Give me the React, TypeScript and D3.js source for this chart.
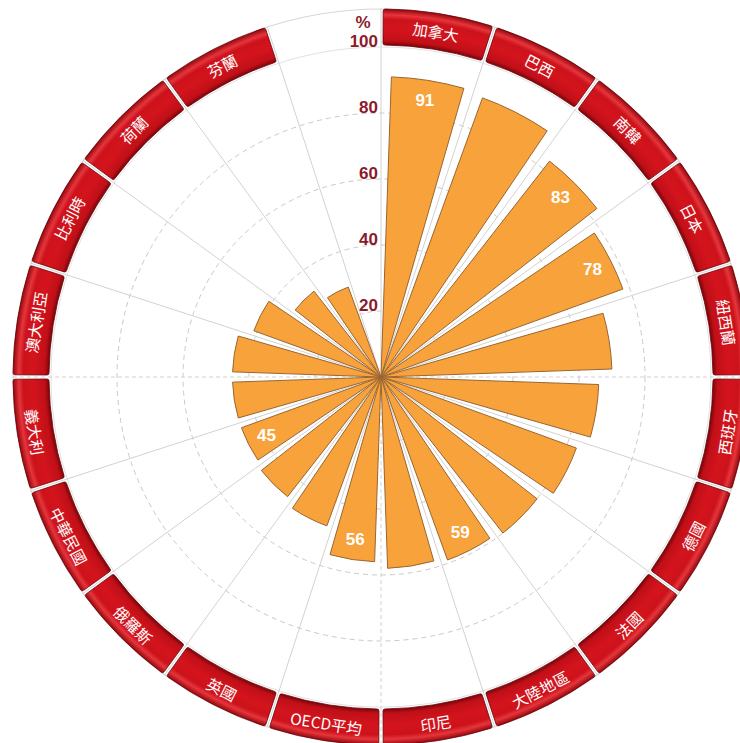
import * as d3 from "d3";

const categories = [
  "加拿大", "巴西", "南韓", "日本", "紐西蘭", "西班牙", "德國", "法國", "大陸地區", "印尼",
  "OECD平均", "英國", "俄羅斯", "中華民國", "義大利", "澳大利亞", "比利時", "荷蘭", "芬蘭",
];
const values = [91, 90, 83, 78, 70, 66, 63, 60, 59, 58, 56, 48, 46, 45, 45, 45, 41, 33, 29];
const labeled = ["加拿大", "南韓", "日本", "大陸地區", "OECD平均", "中華民國"];
const radialTicks = [20, 40, 60, 80, 100];
const GAP = "_gap";

const W = 740;
const H = 743;
const cx = 381;
const cy = 377;
const rMax = 330;
const ringIn = 332;
const ringOut = 368;

export default function App() {
  const x = d3
    .scaleBand<string>()
    .domain([...categories, GAP])
    .range([0, 2 * Math.PI])
    .paddingInner(0.22)
    .paddingOuter(0.11);
  const y = d3.scaleLinear().domain([0, 100]).range([0, rMax]);

  const step = x.step();
  const bw = x.bandwidth();
  const slotStart = (c: string) => (x(c) ?? 0) - (step - bw) / 2;

  const barArc = d3.arc<any>();
  const ringArc = d3.arc<any>().cornerRadius(2);
  const gap = 0.006;

  const pt = (a: number, r: number) => [r * Math.sin(a), -r * Math.cos(a)];

  // slot boundaries for the spokes
  const spokes = d3.range(categories.length + 1).map((i) => i * step);

  return (
    <svg
      width={W}
      height={H}
      style={{ position: "absolute", left: 0, top: 0, background: "#fff" }}
    >
      <defs>
        <radialGradient id="ring" gradientUnits="userSpaceOnUse" cx={0} cy={0} r={ringOut}>
          <stop offset={0.902} stopColor="#7a050a" />
          <stop offset={0.914} stopColor="#c00f18" />
          <stop offset={0.945} stopColor="#d4141d" />
          <stop offset={0.972} stopColor="#cc121b" />
          <stop offset={0.984} stopColor="#e6353c" />
          <stop offset={1} stopColor="#94070d" />
        </radialGradient>
      </defs>
      <g transform={`translate(${cx},${cy})`}>
        {/* grid */}
        <circle r={ringOut} fill="none" stroke="#d6d6d6" strokeWidth={1.2} />
        <circle r={y(100)} fill="none" stroke="#e2e2e2" strokeWidth={1} />
        {radialTicks.slice(0, -1).map((t) => (
          <circle
            key={t}
            r={y(t)}
            fill="none"
            stroke="#c9c9c9"
            strokeWidth={1}
            strokeDasharray="5,4"
          />
        ))}
        {spokes.map((a, i) => {
          const [x2, y2] = pt(a, ringOut);
          return (
            <line
              key={i}
              x1={0}
              y1={0}
              x2={x2}
              y2={y2}
              stroke="#d2d2d2"
              strokeWidth={1}
              strokeDasharray={i === 5 || i === 15 || i === 10 ? "4,3" : undefined}
            />
          );
        })}

        {/* bars */}
        {categories.map((c, i) => (
          <path
            key={c}
            d={
              barArc({
                innerRadius: 0,
                outerRadius: y(values[i]),
                startAngle: x(c),
                endAngle: (x(c) ?? 0) + bw,
              }) ?? ""
            }
            fill="#f8a23b"
            stroke="#9a6530"
            strokeWidth={1}
          />
        ))}

        {/* value labels */}
        {categories.map((c, i) => {
          if (labeled.indexOf(c) < 0) return null;
          const a = (x(c) ?? 0) + bw / 2;
          const [lx, ly] = pt(a, y(values[i]) - 20);
          return (
            <text
              key={c}
              x={lx}
              y={ly}
              textAnchor="middle"
              dominantBaseline="central"
              fill="#fff"
              fontFamily="'Liberation Sans', Arial, sans-serif"
              fontWeight="bold"
              fontSize={17}
            >
              {values[i]}
            </text>
          );
        })}

        {/* outer ring of category tabs */}
        {categories.map((c) => {
          const s = slotStart(c);
          const mid = s + step / 2;
          const deg = (mid * 180) / Math.PI;
          const rot = deg > 90 && deg < 270 ? deg - 180 : deg;
          const [lx, ly] = pt(mid, (ringIn + ringOut) / 2);
          return (
            <g key={c}>
              <path
                d={
                  ringArc({
                    innerRadius: ringIn,
                    outerRadius: ringOut,
                    startAngle: s + gap,
                    endAngle: s + step - gap,
                  }) ?? ""
                }
                fill="url(#ring)"
                stroke="#6a0307"
                strokeWidth={0.8}
              />
              <text
                transform={`translate(${lx},${ly}) rotate(${rot})`}
                textAnchor="middle"
                dominantBaseline="central"
                fill="#fff"
                fontFamily="'Noto Sans CJK TC', 'Noto Sans', sans-serif"
                fontSize={15.5}
              >
                {c}
              </text>
            </g>
          );
        })}

        {/* radial axis labels */}
        {radialTicks.map((t) => (
          <text
            key={t}
            x={-3}
            y={-y(t)}
            textAnchor="end"
            fill="#8c1a2a"
            fontFamily="'Liberation Sans', Arial, sans-serif"
            fontWeight="bold"
            fontSize={17}
          >
            {t}
          </text>
        ))}
        <text
          x={-18}
          y={-y(100) - 19}
          textAnchor="middle"
          fill="#8c1a2a"
          fontFamily="'Liberation Sans', Arial, sans-serif"
          fontWeight="bold"
          fontSize={17}
        >
          %
        </text>
      </g>
    </svg>
  );
}
